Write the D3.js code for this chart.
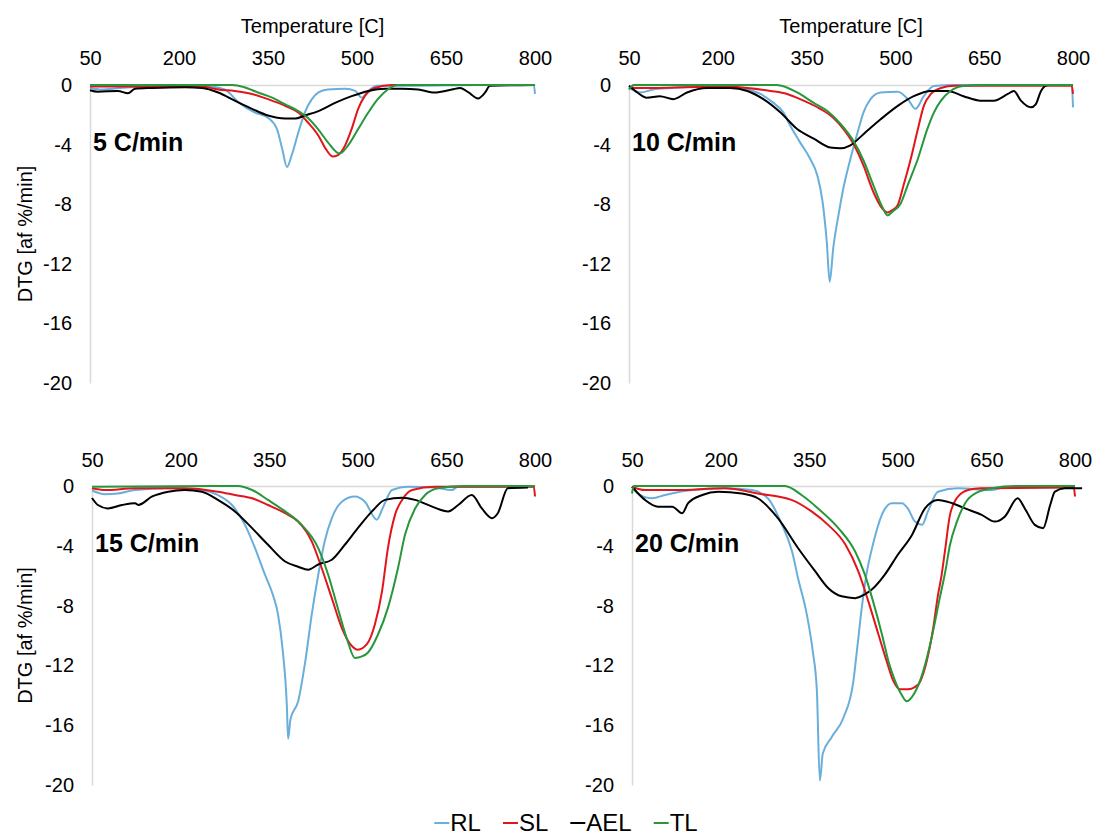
<!DOCTYPE html>
<html>
<head>
<meta charset="utf-8">
<script src="https://cdn.jsdelivr.net/npm/d3@7"></script>
<style>
  html, body { margin: 0; padding: 0; background: #fff; }
  svg { display: block; font-family: "Liberation Sans", Arial, sans-serif; }
</style>
</head>
<body>
<svg id="chart" width="1096" height="837"></svg>
<script>
// DTG curves, [temperature °C, DTG af %/min], one array per sample and heating rate
const rl5 = [[50,-0.2],[70,-0.3],[100,-0.2],[150,-0.1],[239,-0.05],[277,-0.3],[300,-1.15],[328,-1.85],[350,-2.2],[365,-2.95],[374,-4.3],[382,-5.5],[390,-4.7],[401,-3.2],[412,-1.85],[424,-0.95],[435,-0.5],[451,-0.3],[480,-0.25],[497,-0.4],[508,-0.85],[519,-0.4],[535,-0.05],[600,-0.05],[700,0],[798,0],[800,-0.6]];
const sl5 = [[50,-0.1],[150,-0.1],[239,-0.1],[266,-0.3],[294,-0.4],[323,-0.6],[350,-0.95],[379,-1.4],[401,-1.85],[417,-2.5],[435,-3.4],[446,-4.2],[459,-4.8],[468,-4.7],[480,-4.05],[491,-2.95],[502,-1.6],[513,-0.75],[530,-0.2],[559,0],[800,0]];
const ael5 = [[50,-0.35],[63,-0.45],[97,-0.4],[114,-0.55],[126,-0.25],[154,-0.2],[210,-0.15],[239,-0.2],[266,-0.5],[294,-1.05],[323,-1.6],[350,-2.05],[379,-2.25],[396,-2.25],[412,-2.05],[435,-1.75],[463,-1.2],[491,-0.75],[519,-0.4],[547,-0.25],[576,-0.25],[603,-0.3],[631,-0.5],[660,-0.3],[674,-0.2],[688,-0.5],[704,-0.9],[716,-0.5],[724,-0.05],[800,0]];
const tl5 = [[50,0],[290,0],[310,-0.15],[333,-0.5],[357,-0.85],[379,-1.3],[401,-1.75],[417,-2.2],[435,-3.0],[451,-3.85],[471,-4.6],[485,-4.05],[502,-2.95],[519,-1.85],[535,-0.95],[552,-0.3],[569,0],[800,0]];

const rl10 = [[50,-0.2],[69,-0.5],[91,-0.3],[119,-0.2],[204,-0.07],[250,-0.3],[272,-0.6],[294,-1.2],[311,-1.85],[322,-2.7],[339,-3.85],[356,-4.95],[368,-6.05],[377,-7.85],[384,-10.5],[389,-13.2],[395,-10.95],[404,-8.7],[412,-6.95],[424,-4.95],[436,-3.2],[446,-1.85],[458,-0.95],[475,-0.5],[504,-0.45],[521,-0.95],[534,-1.6],[548,-0.75],[565,-0.07],[600,0],[798,0],[800,-1.5]];
const sl10 = [[50,-0.1],[60,-0.2],[91,-0.2],[204,-0.1],[250,-0.2],[289,-0.4],[317,-0.6],[345,-1.05],[373,-1.6],[395,-2.2],[412,-2.95],[429,-3.95],[446,-5.4],[463,-7.2],[478,-8.3],[487,-8.55],[495,-8.4],[504,-8.05],[514,-6.7],[526,-4.95],[538,-2.95],[548,-1.4],[560,-0.6],[577,-0.2],[600,-0.05],[798,-0.05],[800,-0.6]];
const ael10 = [[50,-0.05],[64,-0.5],[80,-0.85],[102,-0.75],[125,-0.95],[148,-0.5],[182,-0.2],[221,-0.2],[250,-0.4],[277,-0.95],[306,-1.85],[334,-2.95],[362,-3.6],[390,-4.2],[407,-4.25],[424,-4.05],[446,-3.3],[475,-2.3],[504,-1.4],[531,-0.75],[560,-0.4],[588,-0.4],[615,-0.75],[644,-1.05],[666,-1.05],[690,-0.6],[700,-0.4],[712,-1.05],[729,-1.5],[737,-1.3],[746,-0.4],[758,0],[790,0]];
const tl10 = [[50,-0.3],[58,0],[300,0],[334,-0.5],[362,-1.2],[385,-1.75],[407,-2.6],[429,-3.75],[446,-5.05],[463,-6.75],[478,-8.2],[487,-8.75],[495,-8.5],[509,-7.95],[521,-6.7],[538,-4.95],[554,-2.95],[565,-1.85],[577,-1.05],[593,-0.4],[615,-0.07],[650,0],[800,0]];

const rl15 = [[50,-0.3],[72,-0.55],[94,-0.5],[123,-0.27],[179,-0.15],[236,-0.27],[263,-0.6],[287,-1.27],[309,-2.6],[326,-4.15],[343,-5.95],[356,-7.25],[365,-8.6],[373,-11.05],[380,-14.8],[382,-16.9],[386,-15.6],[399,-14.4],[411,-11.75],[422,-8.6],[433,-5.95],[444,-3.7],[456,-2.15],[473,-1.05],[495,-0.7],[512,-1.05],[532,-2.25],[543,-1.4],[558,-0.27],[585,-0.05],[630,-0.1],[659,-0.27],[670,-0.05],[800,-0.05]];
const sl15 = [[50,-0.15],[72,-0.27],[123,-0.15],[207,-0.15],[263,-0.38],[292,-0.6],[321,-0.82],[348,-1.27],[377,-1.82],[399,-2.38],[422,-3.7],[439,-5.5],[456,-7.5],[473,-9.5],[490,-10.7],[500,-10.95],[515,-10.6],[529,-9.25],[541,-7.05],[551,-4.15],[563,-1.93],[575,-0.93],[592,-0.27],[630,-0.05],[798,-0.05],[800,-0.7]];
const ael15 = [[50,-0.8],[60,-1.27],[77,-1.5],[101,-1.27],[123,-1.15],[128,-1.27],[152,-0.7],[179,-0.38],[207,-0.27],[236,-0.38],[263,-0.93],[292,-1.7],[321,-2.82],[348,-3.93],[377,-5.05],[399,-5.4],[416,-5.6],[433,-5.25],[456,-4.93],[478,-3.93],[500,-2.82],[524,-1.7],[546,-0.93],[575,-0.78],[597,-0.93],[626,-1.38],[653,-1.7],[670,-1.27],[693,-0.6],[710,-1.5],[727,-2.15],[737,-1.82],[754,-0.15],[788,-0.1]];
const tl15 = [[50,-0.05],[297,0],[321,-0.27],[348,-0.93],[377,-1.7],[405,-2.6],[433,-4.15],[450,-5.95],[466,-8.15],[483,-10.4],[495,-11.5],[507,-11.4],[517,-11.15],[534,-9.95],[551,-8.15],[568,-5.5],[580,-3.25],[597,-1.5],[614,-0.6],[636,-0.15],[680,0],[800,0]];

const rl20 = [[50,-0.05],[60,-0.5],[84,-0.82],[106,-0.6],[152,-0.27],[207,-0.15],[253,-0.27],[280,-0.82],[304,-2.6],[321,-4.38],[331,-6.15],[346,-8.6],[356,-11.05],[363,-13.7],[368,-19.7],[373,-17.9],[388,-16.8],[408,-15.5],[425,-13.0],[430,-11.3],[439,-8.15],[447,-5.9],[458,-3.9],[473,-1.93],[490,-1.15],[507,-1.15],[517,-1.5],[529,-2.38],[541,-2.6],[551,-1.7],[568,-0.38],[602,-0.15],[659,-0.27],[680,-0.1],[800,-0.1]];
const sl20 = [[50,-0.05],[72,-0.27],[123,-0.27],[207,-0.15],[263,-0.5],[320,-0.93],[354,-1.7],[382,-2.6],[411,-3.9],[433,-5.7],[450,-7.7],[467,-9.9],[481,-11.7],[492,-13.0],[504,-13.6],[517,-13.6],[534,-13.3],[549,-11.7],[560,-9.5],[568,-7.3],[574,-6.0],[580,-4.3],[588,-2.0],[600,-0.8],[619,-0.27],[640,-0.15],[798,-0.1],[800,-0.7]];
const ael20 = [[50,-0.05],[72,-0.93],[94,-1.38],[118,-1.38],[135,-1.82],[145,-1.15],[169,-0.6],[196,-0.38],[236,-0.5],[263,-0.82],[297,-2.15],[331,-4.15],[360,-5.7],[382,-6.82],[405,-7.38],[428,-7.5],[444,-7.25],[456,-6.93],[478,-5.93],[500,-4.6],[524,-3.27],[546,-1.5],[568,-0.93],[592,-1.15],[614,-1.5],[642,-1.93],[664,-2.38],[681,-2.05],[703,-0.82],[715,-1.5],[732,-2.6],[746,-2.82],[758,-1.27],[766,-0.38],[783,-0.15],[812,-0.15]];
const tl20 = [[50,-0.5],[53,0],[309,0],[337,-0.6],[365,-1.5],[399,-2.8],[428,-4.4],[444,-5.9],[458,-7.7],[473,-9.9],[484,-11.7],[495,-13.0],[507,-14.0],[515,-14.4],[529,-13.8],[543,-12.4],[557,-10.2],[571,-7.5],[581,-5.6],[588,-4.0],[600,-2.4],[614,-1.15],[636,-0.4],[659,-0.15],[700,0],[800,0]];

const seriesNames = ["RL", "SL", "AEL", "TL"];
const seriesColors = ["#6aaedb", "#e3151b", "#000000", "#26973a"];
const rateLabels = ["5 C/min", "10 C/min", "15 C/min", "20 C/min"];
const tempTicks = [50, 200, 350, 500, 650, 800];
const dtgTicks = [0, -4, -8, -12, -16, -20];

// panel frames (plot area) and which decorations each panel carries
const panels = [
  { data: [rl5, sl5, ael5, tl5],     label: rateLabels[0], left: 90,  right: 535,  top: 85,  bottom: 383, title: true,  yTitle: true,  tickPad: 20 },
  { data: [rl10, sl10, ael10, tl10], label: rateLabels[1], left: 629, right: 1073, top: 85,  bottom: 383, title: true,  yTitle: false, tickPad: 20 },
  { data: [rl15, sl15, ael15, tl15], label: rateLabels[2], left: 92,  right: 535,  top: 486, bottom: 785, title: false, yTitle: true,  tickPad: 19 },
  { data: [rl20, sl20, ael20, tl20], label: rateLabels[3], left: 632, right: 1075, top: 486, bottom: 785, title: false, yTitle: false, tickPad: 19 }
];

const svg = d3.select("#chart");
const axisColor = "#d9d9d9";
const textColor = "#000";
const plainNumber = d => String(d);   // hyphen-minus, as in the printed axis

panels.forEach(p => {
  const x = d3.scaleLinear().domain([50, 800]).range([p.left, p.right]);
  const y = d3.scaleLinear().domain([0, -20]).range([p.top, p.bottom]);
  const g = svg.append("g");

  // temperature axis along the zero line
  const xAxis = g.append("g")
    .attr("transform", `translate(0,${p.top})`)
    .call(d3.axisTop(x).tickValues(tempTicks).tickFormat(plainNumber)
      .tickSize(0).tickSizeOuter(0).tickPadding(p.tickPad));
  xAxis.select(".domain").attr("stroke", axisColor).attr("stroke-width", 1.5);
  xAxis.selectAll("text").attr("font-size", 20).attr("fill", textColor)
    .attr("font-family", "Liberation Sans, Arial, sans-serif");

  // DTG axis
  const yAxis = g.append("g")
    .attr("transform", `translate(${p.left},0)`)
    .call(d3.axisLeft(y).tickValues(dtgTicks).tickFormat(plainNumber)
      .tickSize(0).tickSizeOuter(0).tickPadding(18));
  yAxis.select(".domain").attr("stroke", axisColor).attr("stroke-width", 1.5);
  yAxis.selectAll("text").attr("font-size", 20).attr("fill", textColor)
    .attr("font-family", "Liberation Sans, Arial, sans-serif");

  if (p.title) {
    g.append("text")
      .attr("x", (p.left + p.right) / 2).attr("y", 33)
      .attr("text-anchor", "middle").attr("font-size", 20).attr("fill", textColor)
      .text("Temperature [C]");
  }
  if (p.yTitle) {
    const cy = (p.top + p.bottom) / 2;
    g.append("text")
      .attr("transform", `translate(32,${cy}) rotate(-90)`)
      .attr("text-anchor", "middle").attr("font-size", 20).attr("fill", textColor)
      .text("DTG [af %/min]");
  }

  const line = d3.line()
    .x(d => x(d[0]))
    .y(d => y(d[1]))
    .curve(d3.curveMonotoneX);

  p.data.forEach((s, i) => {
    g.append("path")
      .datum(s)
      .attr("fill", "none")
      .attr("stroke", seriesColors[i])
      .attr("stroke-width", 2)
      .attr("stroke-linejoin", "round")
      .attr("d", line);
  });

  g.append("text")
    .attr("x", p.left + 3).attr("y", p.top + 66)
    .attr("font-size", 25).attr("font-weight", "bold").attr("fill", textColor)
    .text(p.label);
});

// legend: short line swatch followed by series name
const legend = svg.append("g");
let lx = 0;
const gap = 22;
seriesNames.forEach((name, i) => {
  const item = legend.append("g").attr("transform", `translate(${lx},0)`);
  item.append("line").attr("x1", 0).attr("x2", 15).attr("y1", 0).attr("y2", 0)
    .attr("stroke", seriesColors[i]).attr("stroke-width", 2);
  const t = item.append("text").attr("x", 16).attr("y", 8)
    .attr("font-size", 24).attr("fill", textColor).text(name);
  lx += 16 + t.node().getComputedTextLength() + gap;
});
const legendWidth = lx - gap;
legend.attr("transform", `translate(${566 - legendWidth / 2},823)`);
</script>
</body>
</html>
